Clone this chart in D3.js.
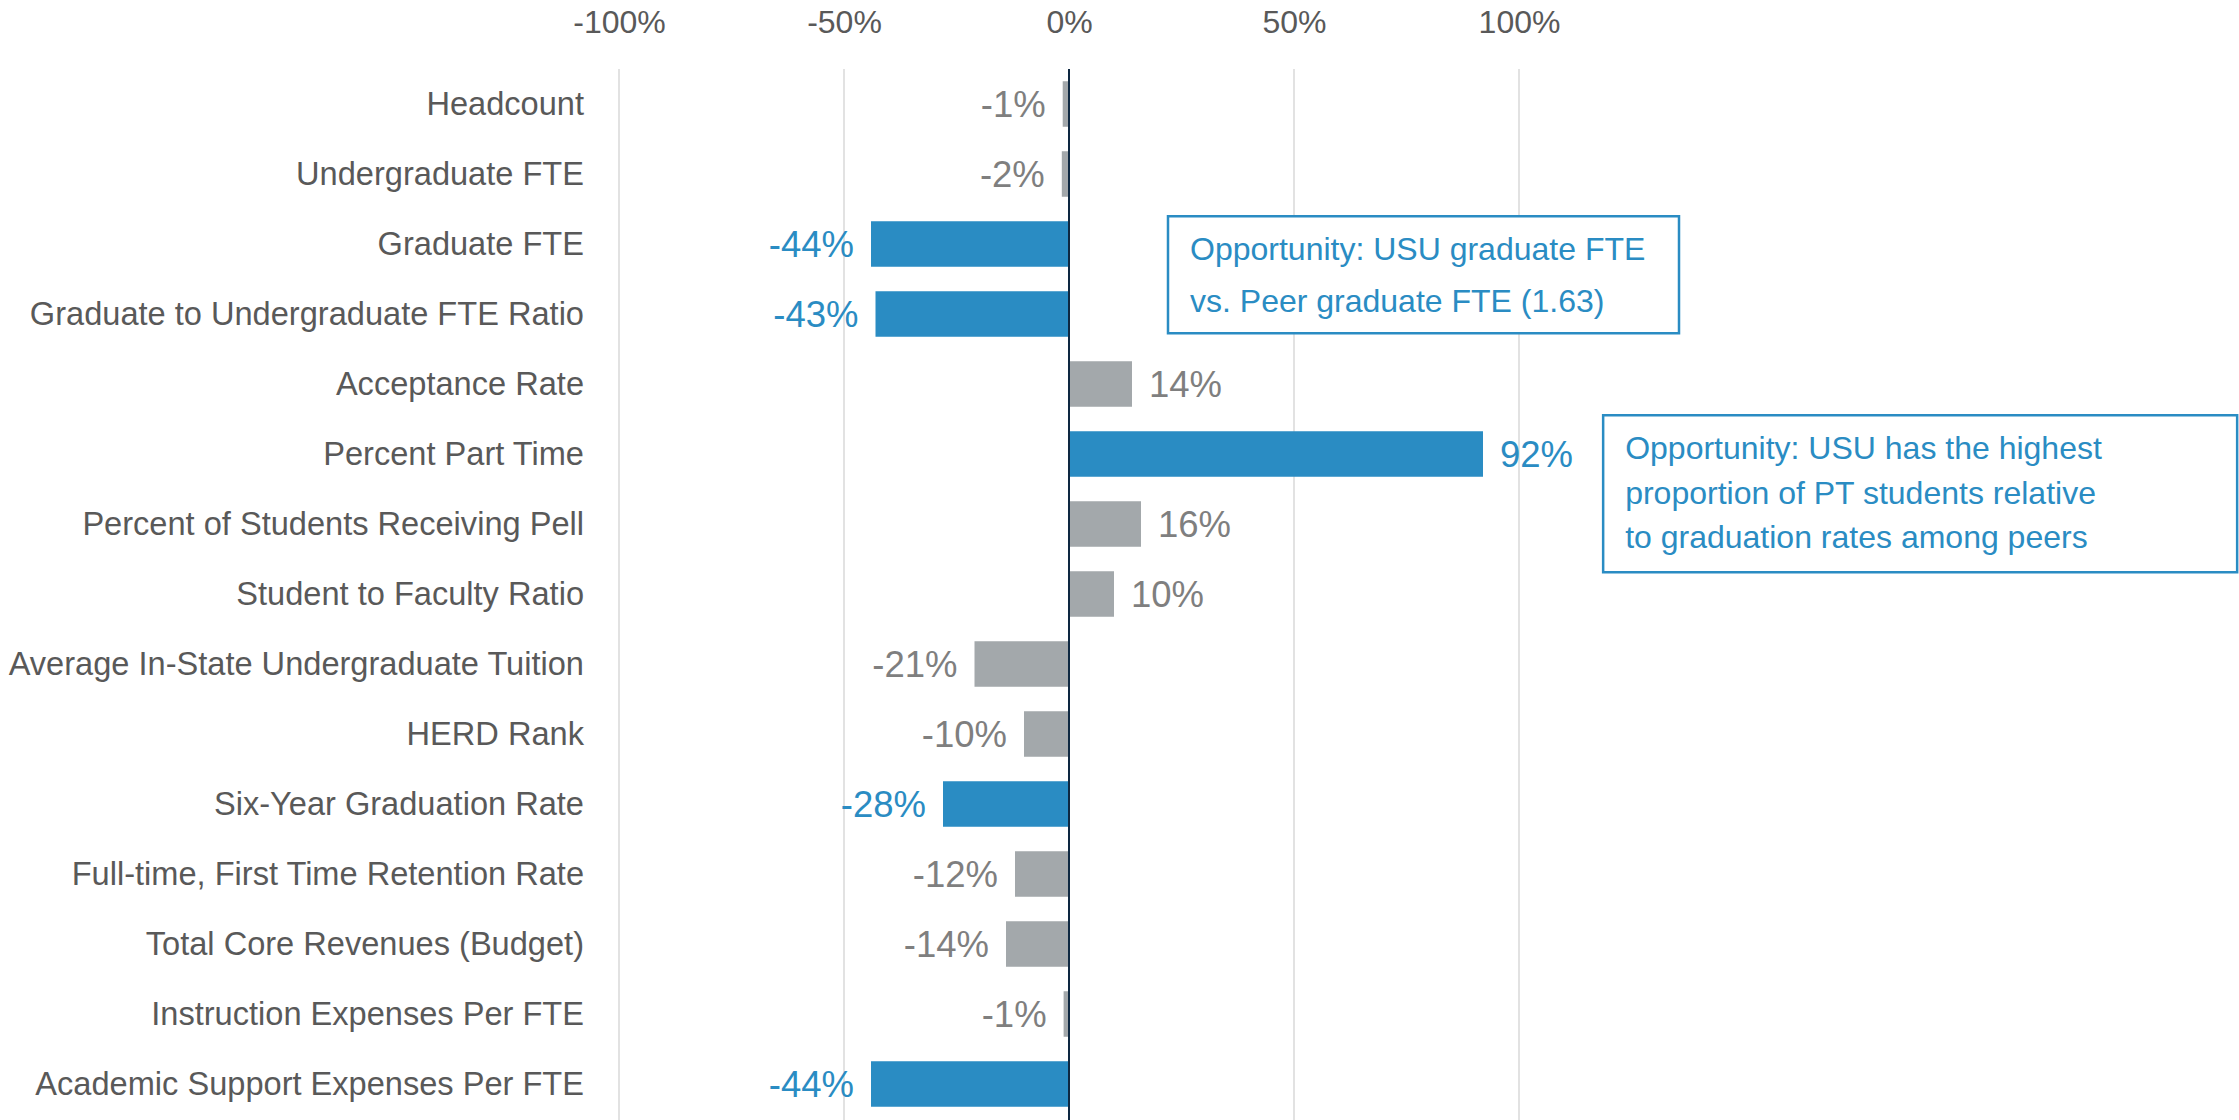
<!DOCTYPE html>
<html>
<head>
<meta charset="utf-8">
<script src="https://cdn.jsdelivr.net/npm/d3@7"></script>
<style>
  html, body { margin: 0; padding: 0; background: #ffffff; }
  svg { display: block; font-family: "Liberation Sans", Arial, sans-serif; }
</style>
</head>
<body>
<div id="svgOutput"></div>
<script>
// data

const categories = [
  "Headcount",
  "Undergraduate FTE",
  "Graduate FTE",
  "Graduate to Undergraduate FTE Ratio",
  "Acceptance Rate",
  "Percent Part Time",
  "Percent of Students Receiving Pell",
  "Student to Faculty Ratio",
  "Average In-State Undergraduate Tuition",
  "HERD Rank",
  "Six-Year Graduation Rate",
  "Full-time, First Time Retention Rate",
  "Total Core Revenues (Budget)",
  "Instruction Expenses Per FTE",
  "Academic Support Expenses Per FTE"
];

const differences = [-0.014, -0.016, -0.44, -0.43, 0.14, 0.92, 0.16, 0.10,
  -0.21, -0.10, -0.28, -0.12, -0.14, -0.012, -0.44];

const highlighted = [
  "Graduate FTE",
  "Graduate to Undergraduate FTE Ratio",
  "Percent Part Time",
  "Six-Year Graduation Rate",
  "Academic Support Expenses Per FTE"
];

const tickValues = [-1, -0.5, 0, 0.5, 1];

const noteGraduate = ["Opportunity: USU graduate FTE", "vs. Peer graduate FTE (1.63)"];
const notePartTime = ["Opportunity: USU has the highest", "proportion of PT students relative", "to graduation rates among peers"];

(function () {
  // config

  const width = 2239;
  const height = 1120;
  const margin = { top: 69, bottom: 1, left: 619, right: 720 };

  const blue = "#2a8cc3";
  const grey = "#a3a8ab";
  const greyText = "#7f7f7f";
  const axisText = "#595959";

  const rows = categories.map((c, i) => ({
    name: c,
    value: differences[i],
    hot: highlighted.includes(c)
  }));

  // scales

  const xScale = d3.scaleLinear()
    .domain([-1, 1])
    .range([margin.left, width - margin.right]);

  const yScale = d3.scaleBand()
    .domain(categories)
    .range([margin.top, height - margin.bottom])
    .paddingInner(0.35)
    .paddingOuter(0.175);

  const svg = d3.select("#svgOutput")
    .append("svg")
    .attr("width", width)
    .attr("height", height)
    .attr("viewBox", [0, 0, width, height]);

  // grid + top axis labels

  const pct = d3.format(".0%");

  const xAxis = d3.axisTop(xScale)
    .tickValues(tickValues)
    .tickFormat(pct)
    .tickSize(0)
    .tickPadding(0);

  svg.append("g")
    .attr("transform", "translate(0, 33)")
    .call(xAxis)
    .call(g => g.select(".domain").remove())
    .call(g => g.selectAll(".tick text")
      .attr("y", 0)
      .attr("dy", 0)
      .attr("fill", axisText)
      .style("font-size", "32px")
      .style("font-family", "'Liberation Sans', Arial, sans-serif")
      .text(d => pct(d).replace("−", "-")));

  svg.append("g")
    .selectAll("line.grid")
    .data(tickValues.filter(d => d !== 0))
    .join("line")
    .attr("class", "grid")
    .attr("x1", d => xScale(d))
    .attr("x2", d => xScale(d))
    .attr("y1", margin.top)
    .attr("y2", height)
    .attr("stroke", "#d9d9d9")
    .attr("stroke-width", 1.5);

  // bars

  svg.selectAll("rect.bar")
    .data(rows)
    .join("rect")
    .attr("class", "bar")
    .attr("x", d => xScale(Math.min(0, d.value)))
    .attr("y", d => yScale(d.name))
    .attr("width", d => Math.abs(xScale(d.value) - xScale(0)))
    .attr("height", yScale.bandwidth())
    .attr("fill", d => d.hot ? blue : grey);

  // zero line

  svg.append("line")
    .attr("x1", xScale(0))
    .attr("x2", xScale(0))
    .attr("y1", margin.top)
    .attr("y2", height)
    .attr("stroke", "#0e2841")
    .attr("stroke-width", 2);

  // category labels

  svg.selectAll("text.cat")
    .data(rows)
    .join("text")
    .attr("class", "cat")
    .attr("x", margin.left - 35)
    .attr("y", d => yScale(d.name) + yScale.bandwidth() / 2)
    .attr("dy", "0.35em")
    .attr("text-anchor", "end")
    .attr("fill", axisText)
    .style("font-size", "32.6px")
    .text(d => d.name);

  // value labels

  svg.selectAll("text.val")
    .data(rows)
    .join("text")
    .attr("class", "val")
    .attr("x", d => d.value < 0 ? xScale(d.value) - 17 : xScale(d.value) + 17)
    .attr("y", d => yScale(d.name) + yScale.bandwidth() / 2)
    .attr("dy", "0.36em")
    .attr("text-anchor", d => d.value < 0 ? "end" : "start")
    .attr("fill", d => d.hot ? blue : greyText)
    .style("font-size", "36.5px")
    .text(d => pct(d.value).replace("−", "-"));

  // annotation boxes

  function note(lines, left, top, w, h, firstBase, lineStep) {
    const g = svg.append("g");
    g.append("rect")
      .attr("x", left)
      .attr("y", top)
      .attr("width", w)
      .attr("height", h)
      .attr("fill", "#ffffff")
      .attr("stroke", blue)
      .attr("stroke-width", 2.5);
    g.selectAll("text")
      .data(lines)
      .join("text")
      .attr("x", left + 22)
      .attr("y", (d, i) => top + firstBase + i * lineStep)
      .attr("fill", blue)
      .style("font-size", "32px")
      .text(d => d);
  }

  note(noteGraduate, xScale(0) + 99, yScale("Graduate FTE") - 5, 511, 117, 44, 52);
  note(notePartTime, xScale(1.187), yScale("Percent Part Time") - 16, 634, 157, 44, 44.5);
})();
</script>
</body>
</html>
